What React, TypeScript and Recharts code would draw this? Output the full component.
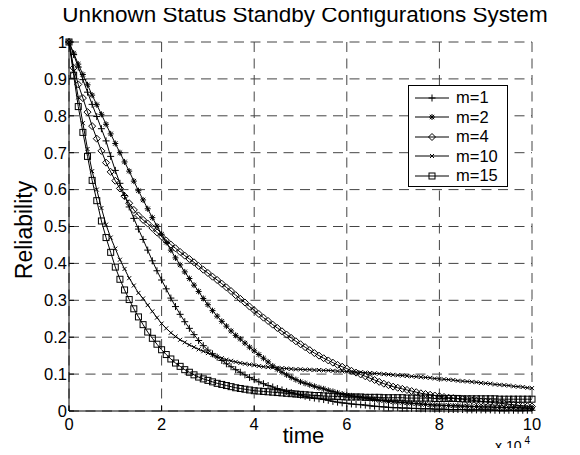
import { LineChart, Line, XAxis, YAxis, CartesianGrid } from "recharts";

const FONT = '"Liberation Sans", Arial, Helvetica, sans-serif';

// time axis, in units of 10^4
const time = [
  0, 0.1, 0.2, 0.3, 0.4, 0.5, 0.6, 0.7, 0.8, 0.9,
  1, 1.1, 1.2, 1.3, 1.4, 1.5, 1.6, 1.7, 1.8, 1.9,
  2, 2.1, 2.2, 2.3, 2.4, 2.5, 2.6, 2.7, 2.8, 2.9,
  3, 3.1, 3.2, 3.3, 3.4, 3.5, 3.6, 3.7, 3.8, 3.9,
  4, 4.1, 4.2, 4.3, 4.4, 4.5, 4.6, 4.7, 4.8, 4.9,
  5, 5.1, 5.2, 5.3, 5.4, 5.5, 5.6, 5.7, 5.8, 5.9,
  6, 6.1, 6.2, 6.3, 6.4, 6.5, 6.6, 6.7, 6.8, 6.9,
  7, 7.1, 7.2, 7.3, 7.4, 7.5, 7.6, 7.7, 7.8, 7.9,
  8, 8.1, 8.2, 8.3, 8.4, 8.5, 8.6, 8.7, 8.8, 8.9,
  9, 9.1, 9.2, 9.3, 9.4, 9.5, 9.6, 9.7, 9.8, 9.9,
  10,
];

const m1 = [
  1.0, 0.966, 0.932, 0.898, 0.864, 0.831, 0.798, 0.765, 0.732, 0.69,
  0.652, 0.617, 0.584, 0.553, 0.522, 0.493, 0.465, 0.436, 0.407, 0.38,
  0.355, 0.331, 0.306, 0.283, 0.262, 0.242, 0.224, 0.207, 0.191, 0.177,
  0.165, 0.155, 0.146, 0.137, 0.128, 0.12, 0.112, 0.105, 0.098, 0.091,
  0.085, 0.079, 0.074, 0.069, 0.065, 0.061, 0.057, 0.053, 0.05, 0.046,
  0.043, 0.04, 0.037, 0.035, 0.033, 0.031, 0.029, 0.026, 0.024, 0.022,
  0.021, 0.019, 0.018, 0.017, 0.016, 0.014, 0.013, 0.012, 0.011, 0.01,
  0.009, 0.009, 0.008, 0.008, 0.007, 0.007, 0.006, 0.006, 0.006, 0.005,
  0.005, 0.005, 0.004, 0.004, 0.004, 0.004, 0.003, 0.003, 0.003, 0.003,
  0.003, 0.003, 0.002, 0.002, 0.002, 0.002, 0.002, 0.002, 0.002, 0.002,
  0.002,
];

const m2 = [
  1.0, 0.97, 0.94, 0.912, 0.884, 0.856, 0.83, 0.804, 0.777, 0.751,
  0.725, 0.7, 0.675, 0.65, 0.623, 0.597, 0.572, 0.548, 0.524, 0.501,
  0.479, 0.457, 0.436, 0.415, 0.396, 0.377, 0.359, 0.341, 0.324, 0.305,
  0.288, 0.272, 0.257, 0.243, 0.23, 0.217, 0.205, 0.195, 0.184, 0.173,
  0.163, 0.153, 0.143, 0.133, 0.122, 0.113, 0.105, 0.098, 0.091, 0.085,
  0.079, 0.075, 0.071, 0.067, 0.063, 0.06, 0.056, 0.053, 0.049, 0.046,
  0.043, 0.041, 0.039, 0.037, 0.035, 0.033, 0.031, 0.029, 0.028, 0.026,
  0.025, 0.024, 0.023, 0.022, 0.021, 0.02, 0.019, 0.018, 0.017, 0.016,
  0.016, 0.015, 0.015, 0.014, 0.014, 0.013, 0.013, 0.012, 0.012, 0.011,
  0.011, 0.011, 0.01, 0.01, 0.01, 0.009, 0.009, 0.009, 0.008, 0.008,
  0.008,
];

const m4 = [
  1.0, 0.93, 0.885, 0.848, 0.81, 0.772, 0.738, 0.705, 0.673, 0.648,
  0.624, 0.603, 0.582, 0.563, 0.545, 0.53, 0.518, 0.508, 0.496, 0.484,
  0.473, 0.462, 0.451, 0.441, 0.431, 0.421, 0.412, 0.403, 0.393, 0.383,
  0.374, 0.364, 0.355, 0.345, 0.335, 0.325, 0.314, 0.304, 0.294, 0.283,
  0.273, 0.263, 0.253, 0.244, 0.234, 0.225, 0.216, 0.207, 0.198, 0.189,
  0.181, 0.173, 0.165, 0.157, 0.15, 0.143, 0.137, 0.131, 0.125, 0.12,
  0.115, 0.109, 0.104, 0.099, 0.094, 0.089, 0.084, 0.079, 0.074, 0.07,
  0.066, 0.063, 0.06, 0.057, 0.054, 0.051, 0.048, 0.046, 0.044, 0.042,
  0.04, 0.038, 0.036, 0.035, 0.033, 0.032, 0.03, 0.029, 0.028, 0.026,
  0.025, 0.024, 0.022, 0.021, 0.02, 0.018, 0.017, 0.015, 0.014, 0.013,
  0.012,
];

const m10 = [
  1.0, 0.92, 0.85, 0.78, 0.71, 0.65, 0.6, 0.55, 0.505, 0.47,
  0.44, 0.41, 0.385, 0.36, 0.34, 0.32, 0.305, 0.287, 0.27, 0.253,
  0.237, 0.224, 0.212, 0.202, 0.193, 0.186, 0.179, 0.173, 0.167, 0.162,
  0.157, 0.152, 0.147, 0.143, 0.139, 0.136, 0.133, 0.13, 0.128, 0.126,
  0.124, 0.122, 0.12, 0.119, 0.118, 0.117, 0.116, 0.115, 0.114, 0.113,
  0.113, 0.112, 0.112, 0.111, 0.111, 0.11, 0.11, 0.109, 0.108, 0.108,
  0.107, 0.106, 0.105, 0.105, 0.104, 0.103, 0.102, 0.101, 0.1, 0.099,
  0.098, 0.097, 0.096, 0.095, 0.094, 0.093, 0.092, 0.091, 0.09, 0.088,
  0.087, 0.086, 0.085, 0.084, 0.082, 0.081, 0.08, 0.079, 0.078, 0.076,
  0.075, 0.074, 0.072, 0.071, 0.07, 0.069, 0.067, 0.066, 0.065, 0.063,
  0.062,
];

const m15 = [
  1.0, 0.91, 0.825, 0.755, 0.69, 0.625, 0.57, 0.515, 0.47, 0.43,
  0.39, 0.357, 0.328, 0.302, 0.277, 0.255, 0.234, 0.214, 0.197, 0.181,
  0.166, 0.153, 0.141, 0.13, 0.121, 0.112, 0.105, 0.098, 0.092, 0.087,
  0.083, 0.079, 0.075, 0.072, 0.069, 0.066, 0.063, 0.061, 0.059, 0.057,
  0.055, 0.054, 0.053, 0.052, 0.051, 0.05, 0.049, 0.048, 0.047, 0.046,
  0.045, 0.044, 0.043, 0.042, 0.042, 0.041, 0.04, 0.04, 0.039, 0.039,
  0.038, 0.038, 0.038, 0.038, 0.037, 0.037, 0.037, 0.037, 0.036, 0.036,
  0.036, 0.036, 0.036, 0.035, 0.035, 0.035, 0.035, 0.035, 0.035, 0.034,
  0.034, 0.034, 0.034, 0.034, 0.034, 0.033, 0.033, 0.033, 0.033, 0.033,
  0.033, 0.033, 0.033, 0.032, 0.032, 0.032, 0.032, 0.032, 0.032, 0.032,
  0.032,
];

const xTicks = [0, 2, 4, 6, 8, 10];
const yTicks = [0, 0.1, 0.2, 0.3, 0.4, 0.5, 0.6, 0.7, 0.8, 0.9, 1];

type Shape = "plus" | "star" | "diamond" | "cross" | "square";

const series: { key: string; name: string; shape: Shape }[] = [
  { key: "m1", name: "m=1", shape: "plus" },
  { key: "m2", name: "m=2", shape: "star" },
  { key: "m4", name: "m=4", shape: "diamond" },
  { key: "m10", name: "m=10", shape: "cross" },
  { key: "m15", name: "m=15", shape: "square" },
];

const data = time.map((t, i) => ({
  t,
  m1: m1[i],
  m2: m2[i],
  m4: m4[i],
  m10: m10[i],
  m15: m15[i],
}));

function Marker({ x, y, shape }: { x: number; y: number; shape: Shape }) {
  const s = { stroke: "#000", strokeWidth: 1, fill: "none" };
  switch (shape) {
    case "plus":
      return <path d={`M${x - 3.5},${y}H${x + 3.5}M${x},${y - 3.5}V${y + 3.5}`} {...s} />;
    case "star":
      return (
        <path
          d={`M${x - 3},${y}H${x + 3}M${x},${y - 3}V${y + 3}M${x - 2.2},${y - 2.2}L${x + 2.2},${y + 2.2}M${x - 2.2},${y + 2.2}L${x + 2.2},${y - 2.2}`}
          {...s}
        />
      );
    case "diamond":
      return <path d={`M${x},${y - 3.5}L${x + 3.5},${y}L${x},${y + 3.5}L${x - 3.5},${y}Z`} {...s} />;
    case "cross":
      return <path d={`M${x - 2},${y - 2}L${x + 2},${y + 2}M${x - 2},${y + 2}L${x + 2},${y - 2}`} {...s} />;
    default:
      return <rect x={x - 3} y={y - 3} width={6} height={6} {...s} />;
  }
}

function LegendBox() {
  return (
    <div style={{
      position: "absolute", left: 400, top: 77, width: 100, height: 102,
      boxSizing: "border-box", border: "1px solid #000", background: "#fff",
      paddingTop: 2, fontSize: 16.5,
    }}>
      {series.map((s) => (
        <div key={s.key} style={{ display: "flex", alignItems: "center", height: 19.5 }}>
          <svg width={34} height={14} style={{ marginLeft: 6 }}>
            <line x1={0} y1={7} x2={34} y2={7} stroke="#000" strokeWidth={1} />
            <Marker x={17} y={7} shape={s.shape} />
          </svg>
          <span style={{ marginLeft: 7, lineHeight: "19px" }}>{s.name}</span>
        </div>
      ))}
    </div>
  );
}

export default function App() {
  const tickStyle = { fill: "#000", fontSize: 16.5, fontFamily: FONT };
  return (
    <div style={{ position: "relative", width: 564, height: 440, fontFamily: FONT, color: "#000" }}>
      <style>{"body{overflow:hidden}"}</style>
      <LineChart width={564} height={440} data={data} margin={{ top: 34, right: 40, left: 0, bottom: 0 }}>
        <CartesianGrid stroke="#444" strokeDasharray="10 6.5" />
        <XAxis
          dataKey="t"
          type="number"
          domain={[0, 10]}
          ticks={xTicks}
          height={37}
          tickSize={-5}
          tickMargin={12}
          tickLine={{ stroke: "#000" }}
          axisLine={{ stroke: "#000" }}
          tick={tickStyle}
        />
        <XAxis
          xAxisId="top"
          orientation="top"
          dataKey="t"
          type="number"
          domain={[0, 10]}
          ticks={xTicks}
          height={0}
          tickSize={-5}
          tickLine={{ stroke: "#000" }}
          axisLine={{ stroke: "#000" }}
          tick={false}
        />
        <YAxis
          type="number"
          domain={[0, 1]}
          ticks={yTicks}
          width={61}
          tickSize={-5}
          tickMargin={7}
          tickLine={{ stroke: "#000" }}
          axisLine={{ stroke: "#000" }}
          tick={tickStyle}
          tickFormatter={(v) => String(v)}
        />
        <YAxis
          yAxisId="right"
          orientation="right"
          type="number"
          domain={[0, 1]}
          ticks={yTicks}
          width={0}
          tickSize={-5}
          tickLine={{ stroke: "#000" }}
          axisLine={{ stroke: "#000" }}
          tick={false}
        />
        {series.map((s) => (
          <Line
            key={s.key}
            dataKey={s.key}
            name={s.name}
            type="linear"
            stroke="#000"
            strokeWidth={1}
            isAnimationActive={false}
            dot={(p: any) => (
              <g key={`${s.key}-${p.index}`}>
                <Marker x={p.cx} y={p.cy} shape={s.shape} />
              </g>
            )}
            activeDot={false}
          />
        ))}
      </LineChart>

      <LegendBox />

      <div style={{
        position: "absolute", left: 297, top: -4, transform: "translateX(-50%)",
        whiteSpace: "nowrap", fontSize: 22.5, lineHeight: "22px",
      }}>
        Unknown Status Standby Configurations System
      </div>
      <div style={{
        position: "absolute", left: 16, top: 222, transform: "translate(-50%, -50%) rotate(-90deg)",
        whiteSpace: "nowrap", fontSize: 23, lineHeight: "23px",
      }}>
        Reliability
      </div>
      <div style={{
        position: "absolute", left: 295.5, top: 417, transform: "translateX(-50%)",
        whiteSpace: "nowrap", fontSize: 22, lineHeight: "22px",
      }}>
        time
      </div>
      <div style={{
        position: "absolute", left: 487, top: 431, whiteSpace: "nowrap", fontSize: 14, lineHeight: "14px",
      }}>
        x 10<span style={{ fontSize: 10, position: "relative", top: -7, marginLeft: 3 }}>4</span>
      </div>
    </div>
  );
}
